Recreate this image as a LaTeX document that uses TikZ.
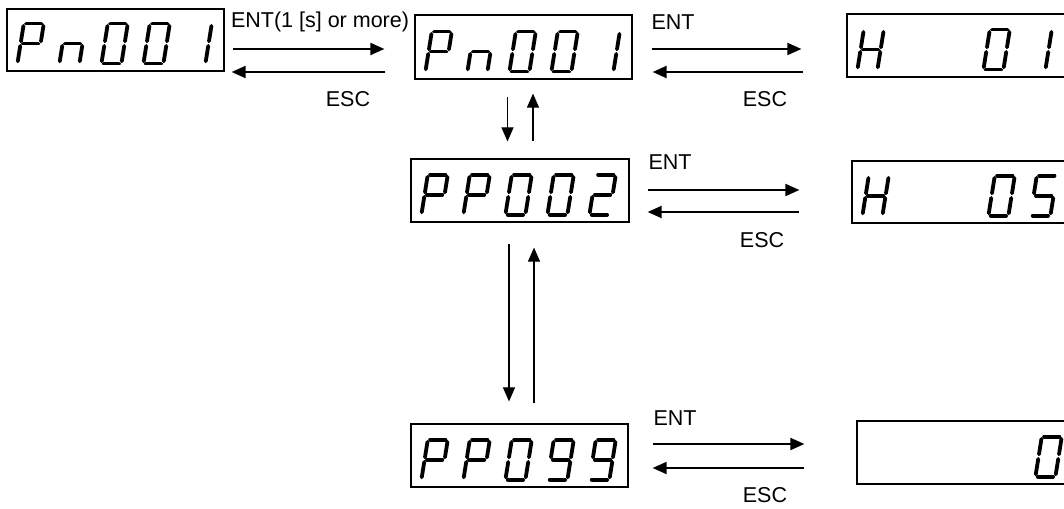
\documentclass[tikz,border=0pt]{standalone}
\usepackage{fontspec}
\setmainfont{Liberation Sans}
\usetikzlibrary{arrows.meta,calc}
\tikzset{
  disp/.style={draw, line width=1.2pt, minimum height=63pt, inner sep=0pt},
  seg/.style={line width=3.8pt, line cap=round, shorten <=2.3pt, shorten >=2.3pt},
  harr/.style={line width=1.8pt, -{Triangle[length=14pt,width=12pt]}},
  varr/.style={line width=1.1pt, -{Triangle[length=14pt,width=12pt]}},
  lab/.style={font=\fontsize{21.5}{25}\selectfont, inner sep=0pt}
}
\def\sga{\draw[seg] (0,40)--(20,40);}
\def\sgb{\draw[seg] (20,40)--(20,20);}
\def\sgc{\draw[seg] (20,20)--(20,0);}
\def\sgd{\draw[seg] (0,0)--(20,0);}
\def\sge{\draw[seg] (0,20)--(0,0);}
\def\sgf{\draw[seg] (0,40)--(0,20);}
\def\sgg{\draw[seg] (0,20)--(20,20);}
\newcommand\segdigit[3]{%
  \begin{scope}[shift={($(#1.south west)+(11+42*#2,-8)$)}, x={(1pt,0pt)}, y={(0.16pt,1pt)}]
    \foreach \s in {#3}{\csname sg\s\endcsname}
  \end{scope}}
\begin{document}
\begin{tikzpicture}[x=1pt, y=-1pt]
\useasboundingbox (0,0) rectangle (1064,508);
% display boxes
\node[disp, minimum width=217pt, minimum height=62pt] (b1) at (115.5,40) {};
\node[disp, minimum width=217pt, minimum height=64pt] (b2) at (523.5,47) {};
\node[disp, minimum width=218pt] (b3) at (520,190.5) {};
\node[disp, minimum width=217pt] (b4) at (519.5,455.5) {};
\node[disp, minimum width=230pt] (r1) at (962,45.5) {};
\node[disp, minimum width=230pt, minimum height=62pt] (r2) at (967,192) {};
\node[disp, minimum width=230pt] (r3) at (972,452.5) {};
% digits
\segdigit{b1}{0}{a,b,f,e,g}\segdigit{b1}{1}{e,c,g}\segdigit{b1}{2}{a,b,c,d,e,f}\segdigit{b1}{3}{a,b,c,d,e,f}\segdigit{b1}{4}{b,c}
\segdigit{b2}{0}{a,b,f,e,g}\segdigit{b2}{1}{e,c,g}\segdigit{b2}{2}{a,b,c,d,e,f}\segdigit{b2}{3}{a,b,c,d,e,f}\segdigit{b2}{4}{b,c}
\segdigit{b3}{0}{a,b,f,e,g}\segdigit{b3}{1}{a,b,f,e,g}\segdigit{b3}{2}{a,b,c,d,e,f}\segdigit{b3}{3}{a,b,c,d,e,f}\segdigit{b3}{4}{a,b,g,e,d}
\segdigit{b4}{0}{a,b,f,e,g}\segdigit{b4}{1}{a,b,f,e,g}\segdigit{b4}{2}{a,b,c,d,e,f}\segdigit{b4}{3}{a,b,c,d,f,g}\segdigit{b4}{4}{a,b,c,d,f,g}
\segdigit{r1}{0}{b,c,e,f,g}\segdigit{r1}{3}{a,b,c,d,e,f}\segdigit{r1}{4}{b,c}
\segdigit{r2}{0}{b,c,e,f,g}\segdigit{r2}{3}{a,b,c,d,e,f}\segdigit{r2}{4}{a,f,g,c,d}
\segdigit{r3}{4}{a,b,c,d,e,f}
% row 1 left
\draw[harr] ($(b1.east)+(8,9)$) -- ($(b2.west)+(-30,2)$);
\draw[harr] ($(b2.west)+(-29,25)$) -- ($(b1.east)+(7,32)$);
\node[lab] (t1) at (320,22) {ENT(1 [s] or more)};
\node[lab] (e1) at (348,99) {ESC};
% row 1 right
\draw[harr] ($(b2.east)+(19,2)$) -- ($(r1.west)+(-45,3.5)$);
\draw[harr] ($(r1.west)+(-43,26.5)$) -- ($(b2.east)+(20,25)$);
\node[lab] (t2) at (673,22) {ENT};
\node[lab] (e2) at (765,99) {ESC};
% row 2
\draw[harr] ($(b3.east)+(18,-0.5)$) -- ($(r2.west)+(-52,-2)$);
\draw[harr] ($(r2.west)+(-52,20)$) -- ($(b3.east)+(18,21.5)$);
\node[lab] (t3) at (670,162) {ENT};
\node[lab] (e3) at (762,240) {ESC};
% row 3
\draw[harr] ($(b4.east)+(24,-11.5)$) -- ($(r3.west)+(-52,-8.5)$);
\draw[harr] ($(r3.west)+(-52,15.5)$) -- ($(b4.east)+(24,12.5)$);
\node[lab] (t4) at (675,418) {ENT};
\node[lab] (e4) at (765,495.5) {ESC};
% vertical arrows
\draw[varr] ($(b2.south)+(-16,17)$) -- ($(b3.north)+(-12.5,-17)$);
\draw[varr] ($(b3.north)+(13,-17)$) -- ($(b2.south)+(9.5,14)$);
\draw[varr] ($(b3.south)+(-11,21)$) -- ($(b4.north)+(-10.5,-22)$);
\draw[varr] ($(b4.north)+(14.5,-20)$) -- ($(b3.south)+(14,25)$);
\end{tikzpicture}
\end{document}
